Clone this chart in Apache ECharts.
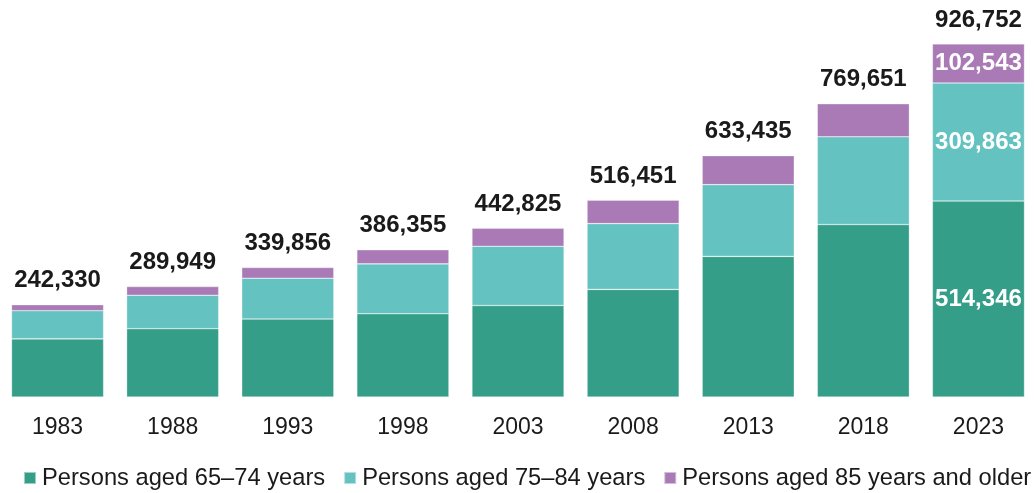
<!DOCTYPE html>
<html>
<head>
<meta charset="utf-8">
<script src="https://cdn.jsdelivr.net/npm/echarts@6/dist/echarts.min.js"></script>
<style>
html,body{margin:0;padding:0;background:#fff;}
#chart{width:1036px;height:493px;}
</style>
</head>
<body>
<div id="chart"></div>
<script>
const years = ['1983','1988','1993','1998','2003','2008','2013','2018','2023'];
const aged65to74 = [152500, 179249, 204556, 218555, 240225, 282351, 369135, 452651, 514346];
const aged75to84 = [74000, 87800, 107200, 130900, 155300, 172700, 188200, 230300, 309863];
const aged85plus = [15830, 22900, 28100, 36900, 47300, 61400, 76100, 86700, 102543];
const totals = [242330, 289949, 339856, 386355, 442825, 516451, 633435, 769651, 926752];
const seriesNames = ['Persons aged 65\u201374 years', 'Persons aged 75\u201384 years', 'Persons aged 85 years and older'];
const colors = ['#349e89', '#64c2c0', '#a97ab5'];
const labelYearIndex = 8;

const FONT = "'Liberation Sans', Arial, sans-serif";
const fmt = v => Number(v).toLocaleString('en-US');

function stackSeries(name, values, color) {
  return {
    name: name,
    type: 'bar',
    stack: 'age',
    barCategoryGap: '20%',
    barGap: '-100%',
    itemStyle: { color: color, borderColor: 'rgba(255,255,255,0.5)', borderWidth: 0.6 },
    emphasis: { disabled: true },
    data: values.map((v, i) => ({
      value: v,
      label: {
        show: i === labelYearIndex,
        position: 'inside',
        color: '#ffffff',
        fontFamily: FONT,
        fontWeight: 'bold',
        fontSize: 24,
        formatter: p => fmt(p.value)
      }
    }))
  };
}

const chart = echarts.init(document.getElementById('chart'), null, { renderer: 'canvas' });
chart.setOption({
  animation: false,
  backgroundColor: '#ffffff',
  grid: { left: -1, right: -5, top: 16, bottom: 96, containLabel: false },
  xAxis: {
    type: 'category',
    data: years,
    axisLine: { show: false },
    axisTick: { show: false },
    axisLabel: { color: '#1a1a1a', fontFamily: FONT, fontSize: 23, margin: 19 }
  },
  yAxis: {
    type: 'value',
    min: 0,
    max: 1000000,
    show: false,
    splitLine: { show: false }
  },
  legend: {
    data: seriesNames,
    left: 23,
    top: 466,
    width: 1100,
    padding: 0,
    itemGap: 18,
    itemWidth: 12,
    itemHeight: 12,
    icon: 'rect',
    textStyle: { color: '#1a1a1a', fontFamily: FONT, fontSize: 23.7, padding: [0, 0, 0, 1] }
  },
  series: [
    stackSeries(seriesNames[0], aged65to74, colors[0]),
    stackSeries(seriesNames[1], aged75to84, colors[1]),
    stackSeries(seriesNames[2], aged85plus, colors[2]),
    {
      name: 'Total',
      type: 'bar',
      barCategoryGap: '20%',
      barGap: '-100%',
      z: 1,
      itemStyle: { color: 'rgba(0,0,0,0)' },
      emphasis: { disabled: true },
      label: {
        show: true,
        position: 'top',
        distance: 12,
        color: '#1a1a1a',
        fontFamily: FONT,
        fontWeight: 'bold',
        fontSize: 24,
        formatter: p => fmt(p.value)
      },
      data: totals
    }
  ]
});
</script>
</body>
</html>
